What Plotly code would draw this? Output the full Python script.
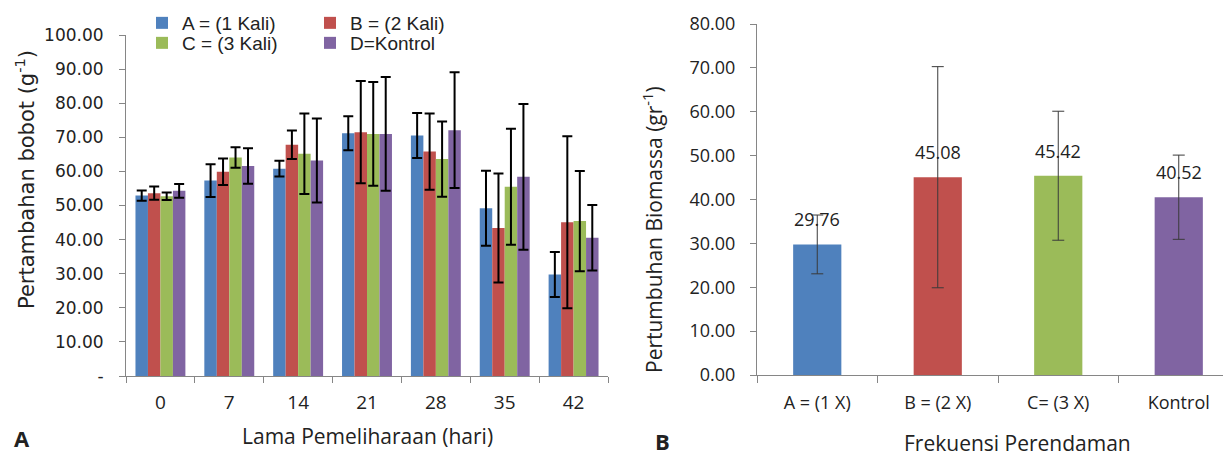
import plotly.graph_objects as go

# ---------------- data ----------------
days = ["0", "7", "14", "21", "28", "35", "42"]
series_names = ["A = (1 Kali)", "B = (2 Kali)", "C = (3 Kali)", "D=Kontrol"]
vals_A = [52.9, 57.3, 60.8, 71.2, 70.5, 49.2, 29.76]
vals_B = [53.6, 59.9, 67.8, 71.5, 65.8, 43.4, 45.08]
vals_C = [52.7, 64.1, 65.2, 71.0, 63.6, 55.5, 45.42]
vals_D = [54.3, 61.6, 63.2, 71.0, 72.1, 58.4, 40.52]
err_A = [1.5, 4.8, 2.3, 5.0, 6.6, 11.0, 6.6]
err_B = [1.95, 3.9, 4.2, 15.0, 11.2, 16.0, 25.2]
err_C = [1.1, 3.0, 11.8, 15.2, 11.0, 17.0, 14.7]
err_D = [2.0, 5.2, 12.3, 16.7, 17.0, 21.4, 9.6]
left_ytick_vals = [0, 10, 20, 30, 40, 50, 60, 70, 80, 90, 100]
left_ytick_text = ["-", "10.00", "20.00", "30.00", "40.00", "50.00",
                   "60.00", "70.00", "80.00", "90.00", "100.00"]

freq_cats = ["A = (1 X)", "B = (2 X)", "C= (3 X)", "Kontrol"]
biomass = [29.76, 45.08, 45.42, 40.52]
biomass_err = [6.7, 25.2, 14.7, 9.6]
biomass_labels = ["29.76", "45.08", "45.42", "40.52"]
right_ytick_vals = [0, 10, 20, 30, 40, 50, 60, 70, 80]

colors = ["#4F81BD", "#C0504D", "#9BBB59", "#8064A2"]

W, H = 1231, 456
OFF = 8  # page body margin offset
fig = go.Figure()

left_vals = [vals_A, vals_B, vals_C, vals_D]
left_errs = [err_A, err_B, err_C, err_D]
for i in range(4):
    fig.add_trace(go.Bar(
        x=days, y=left_vals[i], name=series_names[i],
        marker=dict(color=colors[i], line=dict(width=0)),
        error_y=dict(type="data", array=left_errs[i], visible=True,
                     color="#000000", thickness=2, width=5),
        xaxis="x", yaxis="y",
        legend="legend" if i < 2 else "legend2",
    ))

fig.add_trace(go.Bar(
    x=freq_cats, y=biomass, width=0.4, showlegend=False,
    marker=dict(color=colors, line=dict(width=0)),
    error_y=dict(type="data", array=biomass_err, visible=True,
                 color="#3a3a3a", thickness=1, width=6),
    xaxis="x2", yaxis="y2",
))


def px_x(p):
    return (p - OFF) / W


def px_y(p):
    return 1 - (p - OFF) / H


axis_col = "#868686"
txt_col = "#222222"

annotations = []
for i in range(4):
    annotations.append(dict(
        x=freq_cats[i], y=biomass[i], xref="x2", yref="y2",
        text=biomass_labels[i], showarrow=False, yanchor="bottom",
        xanchor="center", yshift=11,
        font=dict(family="Open Sans", size=18, color=txt_col)))


def label(x, y, text, size, family="Open Sans", angle=0):
    return dict(x=px_x(x), y=px_y(y), xref="paper", yref="paper",
                xanchor="center", yanchor="middle", text=text,
                textangle=angle, showarrow=False,
                font=dict(family=family, size=size, color=txt_col))


annotations += [
    label(25, 180, "Pertambahan bobot (g<sup>-1</sup>)", 21, "DejaVu Sans", -90),
    label(367, 436, "Lama Pemeliharaan (hari)", 21),
    label(652, 230, "Pertumbuhan Biomassa (gr<sup>-1</sup>)", 21, angle=-90),
    label(1017, 443, "Frekuensi Perendaman", 21),
    label(22, 438, "<b>A</b>", 22),
    label(662, 441, "<b>B</b>", 22),
]

legend_common = dict(orientation="h", xanchor="left", yanchor="middle",
                     entrywidth=123, entrywidthmode="pixels",
                     itemwidth=30, traceorder="normal",
                     font=dict(family="Liberation Sans", size=19, color=txt_col),
                     bgcolor="rgba(0,0,0,0)")

fig.update_layout(
    width=W, height=H,
    margin=dict(l=0, r=0, t=0, b=0, autoexpand=False),
    paper_bgcolor="white", plot_bgcolor="white",
    barmode="group", bargap=0.275, bargroupgap=0,
    xaxis=dict(domain=[px_x(126), px_x(608)], type="category", anchor="y",
               showline=True, linecolor=axis_col, linewidth=1,
               ticks="outside", tickson="boundaries", ticklen=6,
               tickcolor=axis_col, showgrid=False, ticklabelstandoff=9,
               tickfont=dict(family="Open Sans", size=19, color=txt_col)),
    yaxis=dict(domain=[px_y(376), px_y(35)], range=[0, 100], anchor="x",
               tickvals=left_ytick_vals, ticktext=left_ytick_text,
               showline=True, linecolor=axis_col, linewidth=1,
               ticks="outside", ticklen=6, tickcolor=axis_col,
               showgrid=False, zeroline=False, ticklabelstandoff=12,
               tickfont=dict(family="DejaVu Sans", size=17, color=txt_col)),
    xaxis2=dict(domain=[px_x(757), 1.0], type="category", anchor="y2",
                range=[-0.5, 3.5],
                showline=True, linecolor=axis_col, linewidth=1,
                ticks="outside", tickson="boundaries", ticklen=7,
                tickcolor=axis_col, showgrid=False, ticklabelstandoff=11,
                tickfont=dict(family="Open Sans", size=18, color=txt_col)),
    yaxis2=dict(domain=[px_y(375), px_y(24)], range=[0, 80], anchor="x2",
                tickvals=right_ytick_vals, tickformat=".2f",
                showline=True, linecolor=axis_col, linewidth=1,
                ticks="outside", ticklen=6, tickcolor=axis_col,
                showgrid=False, zeroline=False, ticklabelstandoff=11,
                tickfont=dict(family="Open Sans", size=18, color=txt_col)),
    legend=dict(x=px_x(142), y=px_y(23), **legend_common),
    legend2=dict(x=px_x(142), y=px_y(43), **legend_common),
    annotations=annotations,
    showlegend=True,
)

fig.write_html("out.html")
